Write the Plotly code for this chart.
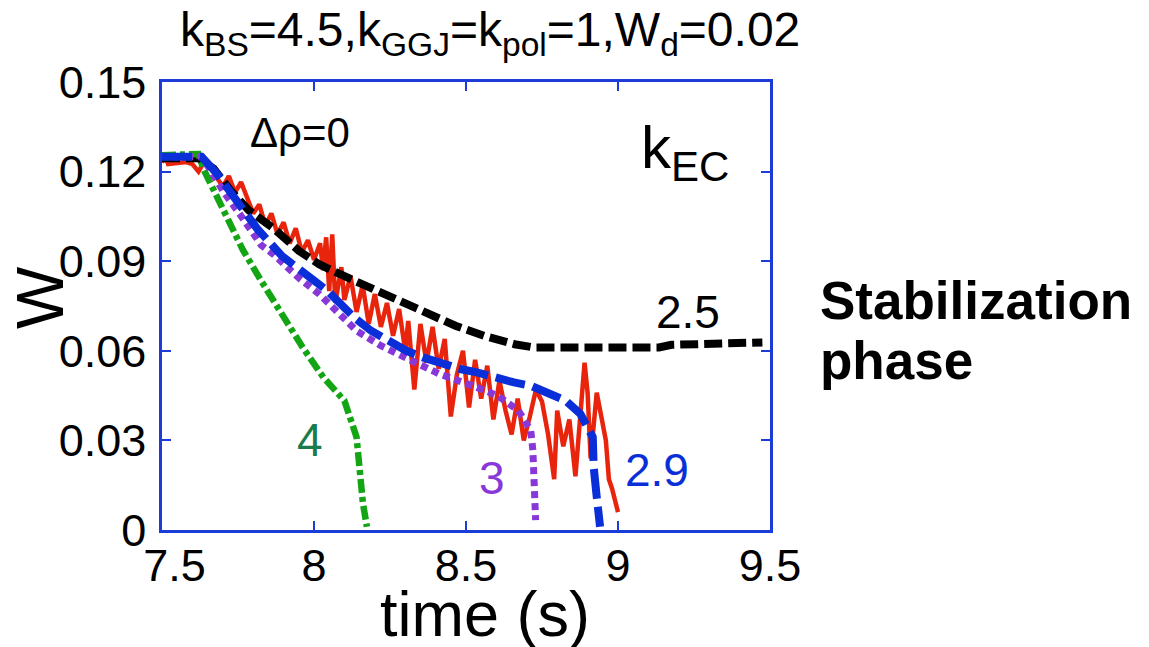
import plotly.graph_objects as go

# k_EC = 2.5 (black dashed)
t_25 = [7.50, 7.62, 7.67, 7.725, 7.786, 7.868, 7.95, 8.018, 8.113, 8.195, 8.304, 8.385, 8.467, 8.56, 8.66, 8.726, 9.135, 9.176, 9.30, 9.475]
w_25 = [0.1245, 0.1245, 0.121, 0.1137, 0.107, 0.1009, 0.0935, 0.0889, 0.0844, 0.0806, 0.0761, 0.0717, 0.0683, 0.065, 0.0622, 0.0611, 0.0611, 0.062, 0.0624, 0.0628]

# k_EC = 4 (green dash-dot)
t_4 = [7.50, 7.62, 7.636, 7.677, 7.718, 7.766, 7.827, 7.895, 7.963, 8.031, 8.10, 8.14, 8.147, 8.161, 8.174]
w_4 = [0.1255, 0.1259, 0.1209, 0.112, 0.1042, 0.0938, 0.0833, 0.0722, 0.0611, 0.0511, 0.0433, 0.0311, 0.0222, 0.0089, 0.0011]

# k_EC = 3 (purple dotted)
t_3 = [7.50, 7.63, 7.657, 7.704, 7.759, 7.827, 7.868, 7.95, 8.018, 8.086, 8.14, 8.22, 8.318, 8.413, 8.522, 8.604, 8.672, 8.713, 8.72, 8.726, 8.729]
w_3 = [0.125, 0.125, 0.1209, 0.113, 0.1053, 0.0953, 0.0922, 0.0844, 0.0789, 0.0722, 0.0667, 0.0617, 0.0567, 0.0522, 0.0483, 0.045, 0.040, 0.0333, 0.0267, 0.0156, 0.0033]

# k_EC = 2.9 (blue dashed)
t_29 = [7.50, 7.63, 7.677, 7.745, 7.813, 7.895, 7.977, 8.045, 8.133, 8.188, 8.304, 8.358, 8.481, 8.536, 8.658, 8.713, 8.828, 8.876, 8.917, 8.92, 8.93, 8.941]
w_29 = [0.125, 0.125, 0.1198, 0.1098, 0.1009, 0.0917, 0.0856, 0.080, 0.0711, 0.0667, 0.060, 0.0578, 0.0539, 0.0528, 0.0494, 0.0483, 0.0433, 0.0389, 0.0311, 0.0211, 0.0111, 0.0011]

# red noisy solid curve
t_red = [7.50, 7.51, 7.52, 7.55, 7.58, 7.60, 7.62, 7.64, 7.66, 7.68, 7.70, 7.72, 7.74, 7.76, 7.78,
         7.80, 7.82, 7.84, 7.86, 7.88, 7.90, 7.92, 7.94, 7.96, 7.98, 8.00, 8.02, 8.03, 8.04, 8.05,
         8.06, 8.07, 8.09, 8.10, 8.12, 8.14, 8.16, 8.18, 8.20, 8.22, 8.24, 8.26, 8.28, 8.30, 8.31,
         8.33, 8.35, 8.37, 8.39, 8.41, 8.43, 8.45, 8.47, 8.49, 8.51, 8.53, 8.55, 8.57, 8.59, 8.61,
         8.63, 8.65, 8.67, 8.69, 8.71, 8.73, 8.75, 8.77, 8.79, 8.80, 8.82, 8.84, 8.86, 8.88, 8.89,
         8.90, 8.91, 8.93, 8.95, 8.96, 8.97, 8.98, 9.00]
w_red = [0.1230, 0.1255, 0.1225, 0.1228, 0.1232, 0.1225, 0.1200, 0.1235, 0.1215, 0.1180, 0.1150, 0.1185, 0.1130, 0.1165, 0.1110,
         0.1060, 0.1090, 0.1020, 0.1060, 0.0990, 0.1030, 0.0960, 0.1010, 0.0930, 0.0970, 0.0905, 0.0960, 0.0870, 0.0980, 0.0800,
         0.0990, 0.0760, 0.0880, 0.0770, 0.0850, 0.0730, 0.0820, 0.0690, 0.0790, 0.0680, 0.0760, 0.0650, 0.0740, 0.0600, 0.0700,
         0.0470, 0.0690, 0.0560, 0.0680, 0.0540, 0.0640, 0.0380, 0.0520, 0.0600, 0.0410, 0.0570, 0.0440, 0.0550, 0.0370, 0.0500,
         0.0400, 0.0320, 0.0440, 0.0300, 0.0380, 0.0470, 0.0430, 0.0320, 0.0170, 0.0400, 0.0280, 0.0370, 0.0180, 0.0420, 0.0560,
         0.0460, 0.0240, 0.0460, 0.0360, 0.0300, 0.0170, 0.0140, 0.0060]

x_ticks = [7.5, 8, 8.5, 9, 9.5]
x_ticklabels = ["\u00a0\u00a07.5", "8", "8.5", "9", "9.5"]
y_ticks = [0, 0.03, 0.06, 0.09, 0.12, 0.15]
y_ticklabels = ["0", "0.03", "0.06", "0.09", "0.12", "0.15"]

AXC = "#1c3cd8"
FONT = "Liberation Sans, Arial, sans-serif"
L, R, T, B = 162, 770, 82, 530
W_, H_ = 1149, 647

fig = go.Figure()
fig.add_trace(go.Scatter(x=t_red, y=w_red, mode="lines",
                         line=dict(color="#e8250c", width=4.5)))
fig.add_trace(go.Scatter(x=t_25, y=w_25, mode="lines",
                         line=dict(color="black", width=8, dash="18px,6px")))
fig.add_trace(go.Scatter(x=t_4, y=w_4, mode="lines",
                         line=dict(color="#14a514", width=6.5, dash="14px,4px,5px,4px")))
fig.add_trace(go.Scatter(x=t_3, y=w_3, mode="lines",
                         line=dict(color="#8838d8", width=7, dash="7px,5px")))
fig.add_trace(go.Scatter(x=t_29, y=w_29, mode="lines",
                         line=dict(color="#0a2ed8", width=8, dash="30px,8px")))

fig.update_layout(
    width=W_, height=H_,
    margin=dict(l=L, r=W_ - R, t=T, b=H_ - B),
    plot_bgcolor="white", paper_bgcolor="white",
    showlegend=False,
    font=dict(family=FONT, color="black"),
)
fig.update_xaxes(range=[7.5, 9.5], tickvals=x_ticks, ticktext=x_ticklabels,
                 ticks="inside", ticklen=9, tickwidth=2, tickcolor=AXC,
                 showline=True, linecolor=AXC, linewidth=2.5, mirror="ticks",
                 showgrid=False, zeroline=False, ticklabelstandoff=-6,
                 tickfont=dict(size=45, family=FONT, color="black"))
fig.update_yaxes(range=[0, 0.15], tickvals=y_ticks, ticktext=y_ticklabels,
                 ticks="inside", ticklen=9, tickwidth=2, tickcolor=AXC,
                 showline=True, linecolor=AXC, linewidth=2.5, mirror="ticks",
                 showgrid=False, zeroline=False, ticklabelstandoff=4,
                 tickfont=dict(size=45, family=FONT, color="black"))


def px2paper(px, py):
    return (px - L) / (R - L), (B - py) / (B - T)


ann = [
    dict(text="k<sub>BS</sub>=4.5,k<sub>GGJ</sub>=k<sub>pol</sub>=1,W<sub>d</sub>=0.02",
         x=490, y=33, size=48),
    dict(text="time (s)", x=485, y=614, size=63),
    dict(text="Δρ=0", x=300, y=132, size=42),
    dict(text="k<sub>EC</sub>", x=685, y=152, size=60),
    dict(text="2.5", x=688, y=312, size=46),
    dict(text="4", x=310, y=440, size=46, color="#1b7a4e"),
    dict(text="3", x=492, y=478, size=46, color="#8838d8"),
    dict(text="2.9", x=657, y=470, size=46, color="#0a2ed8"),
]
for a in ann:
    xp, yp = px2paper(a["x"], a["y"])
    fig.add_annotation(text=a["text"], x=xp, y=yp,
                       xref="paper", yref="paper", showarrow=False,
                       xanchor="center", yanchor="middle",
                       font=dict(size=a["size"], family=FONT, color=a.get("color", "black")))

xp, yp = px2paper(40, 297)
fig.add_annotation(text="W", x=xp, y=yp, xref="paper", yref="paper", showarrow=False,
                   xanchor="center", yanchor="middle", textangle=-90,
                   font=dict(size=66, family=FONT, color="black"))

for txt, py in [("Stabilization", 300), ("phase", 360)]:
    xp, yp = px2paper(818, py)
    fig.add_annotation(text="<b>%s</b>" % txt, x=xp, y=yp, xref="paper", yref="paper",
                       xanchor="left", yanchor="middle", showarrow=False,
                       font=dict(size=53, family=FONT, color="black"))

fig.write_html("out.html")
